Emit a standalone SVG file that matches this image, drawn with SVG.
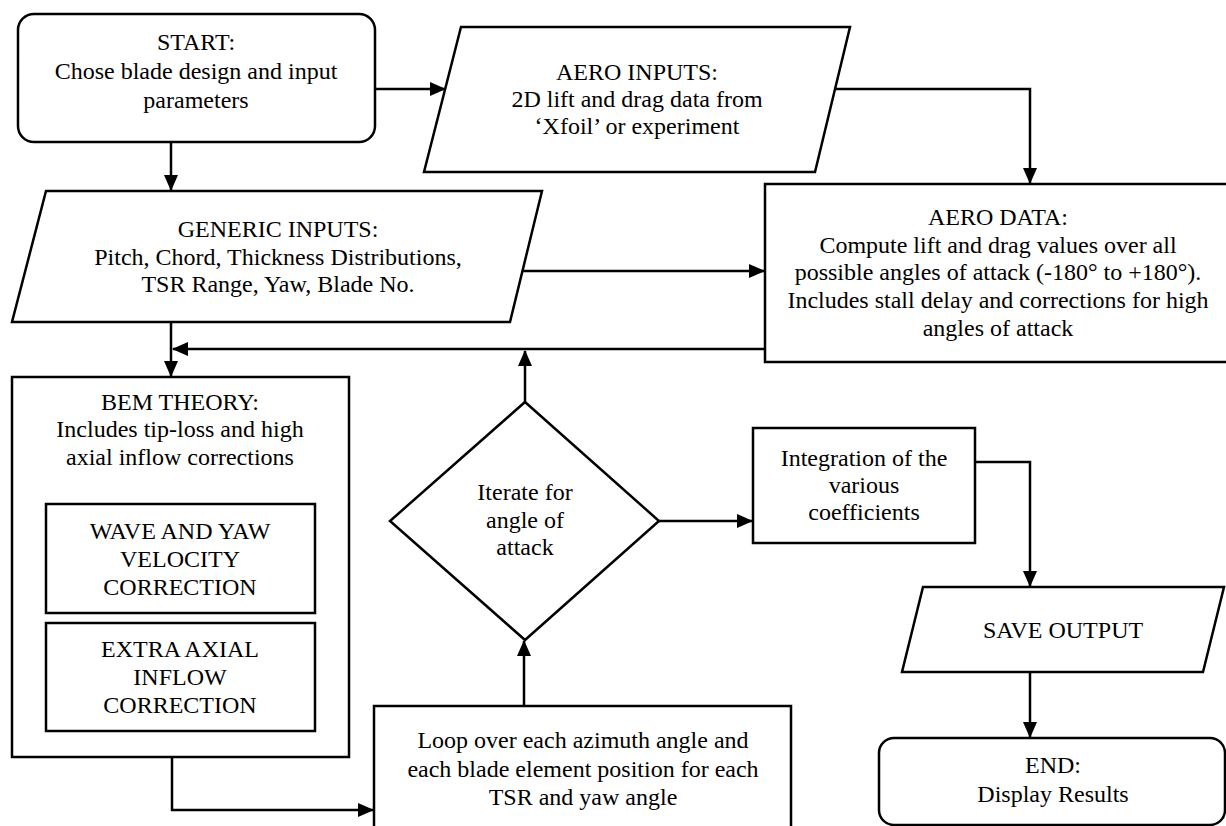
<svg xmlns="http://www.w3.org/2000/svg" width="1226" height="826" viewBox="0 0 1226 826">
<defs>
<style>
.s{fill:#fff;stroke:#000;stroke-width:2.5}
.c{fill:none;stroke:#000;stroke-width:2.5}
text{font-family:"Liberation Serif","Times New Roman",serif;font-size:24px;fill:#000;text-anchor:middle}
</style>
<marker id="a" viewBox="0 0 16 14" refX="15" refY="7" markerWidth="16" markerHeight="14" markerUnits="userSpaceOnUse" orient="auto">
<path d="M0,0 L16,7 L0,14 Z" fill="#000"/>
</marker>
</defs>
<rect width="1226" height="826" fill="#fff"/>
<g id="connectors">
<path class="c" d="M375,89 H445" marker-end="url(#a)"/>
<path class="c" d="M171,142 V190" marker-end="url(#a)"/>
<path class="c" d="M835,89 H1030 V183" marker-end="url(#a)"/>
<path class="c" d="M522,271 H764" marker-end="url(#a)"/>
<path class="c" d="M171,322 V376" marker-end="url(#a)"/>
<path class="c" d="M765,349 H173" marker-end="url(#a)"/>
<path class="c" d="M525,402 V351" marker-end="url(#a)"/>
<path class="c" d="M172,757 V810 H373" marker-end="url(#a)"/>
<path class="c" d="M524,706 V641" marker-end="url(#a)"/>
<path class="c" d="M659,521 H752" marker-end="url(#a)"/>
<path class="c" d="M975,462 H1030 V586" marker-end="url(#a)"/>
<path class="c" d="M1030,672 V737" marker-end="url(#a)"/>
</g>
<g id="start">
<rect class="s" x="18" y="14" width="357" height="128" rx="16"/>
<text x="196" y="50">START:</text>
<text x="196" y="79">Chose blade design and input</text>
<text x="196" y="108">parameters</text>
</g>
<g id="aero-inputs">
<polygon class="s" points="461,27 850,27 815,172 424,172"/>
<text x="637" y="80">AERO INPUTS:</text>
<text x="637" y="107">2D lift and drag data from</text>
<text x="637" y="134">‘Xfoil’ or experiment</text>
</g>
<g id="generic-inputs">
<polygon class="s" points="46,191 542,191 510,322 12,322"/>
<text x="278" y="237">GENERIC INPUTS:</text>
<text x="278" y="265">Pitch, Chord, Thickness Distributions,</text>
<text x="278" y="292">TSR Range, Yaw, Blade No.</text>
</g>
<g id="aero-data">
<rect class="s" x="765" y="184" width="480" height="178"/>
<text x="998" y="225">AERO DATA:</text>
<text x="998" y="253">Compute lift and drag values over all</text>
<text x="998" y="280">possible angles of attack (-180° to +180°).</text>
<text x="998" y="308">Includes stall delay and corrections for high</text>
<text x="998" y="336">angles of attack</text>
</g>
<g id="bem-theory">
<rect class="s" x="12" y="377" width="337" height="380"/>
<text x="180" y="410">BEM THEORY:</text>
<text x="180" y="437">Includes tip-loss and high</text>
<text x="180" y="465">axial inflow corrections</text>
</g>
<g id="wave-yaw">
<rect class="s" x="46" y="504" width="269" height="109"/>
<text x="180" y="539">WAVE AND YAW</text>
<text x="180" y="567">VELOCITY</text>
<text x="180" y="595">CORRECTION</text>
</g>
<g id="extra-axial">
<rect class="s" x="46" y="623" width="269" height="108"/>
<text x="180" y="657">EXTRA AXIAL</text>
<text x="180" y="685">INFLOW</text>
<text x="180" y="713">CORRECTION</text>
</g>
<g id="iterate">
<polygon class="s" points="525,402 659,521 525,640 390,521"/>
<text x="525" y="500">Iterate for</text>
<text x="525" y="528">angle of</text>
<text x="525" y="555">attack</text>
</g>
<g id="loop">
<rect class="s" x="374" y="706" width="417" height="140"/>
<text x="583" y="748">Loop over each azimuth angle and</text>
<text x="583" y="777">each blade element position for each</text>
<text x="583" y="805">TSR and yaw angle</text>
</g>
<g id="integration">
<rect class="s" x="753" y="428" width="222" height="115"/>
<text x="864" y="466">Integration of the</text>
<text x="864" y="493">various</text>
<text x="864" y="520">coefficients</text>
</g>
<g id="save-output">
<polygon class="s" points="923,587 1224,587 1203,672 902,672"/>
<text x="1063" y="638">SAVE OUTPUT</text>
</g>
<g id="end">
<rect class="s" x="879" y="738" width="346" height="87" rx="15"/>
<text x="1053" y="773">END:</text>
<text x="1053" y="802">Display Results</text>
</g>
</svg>
